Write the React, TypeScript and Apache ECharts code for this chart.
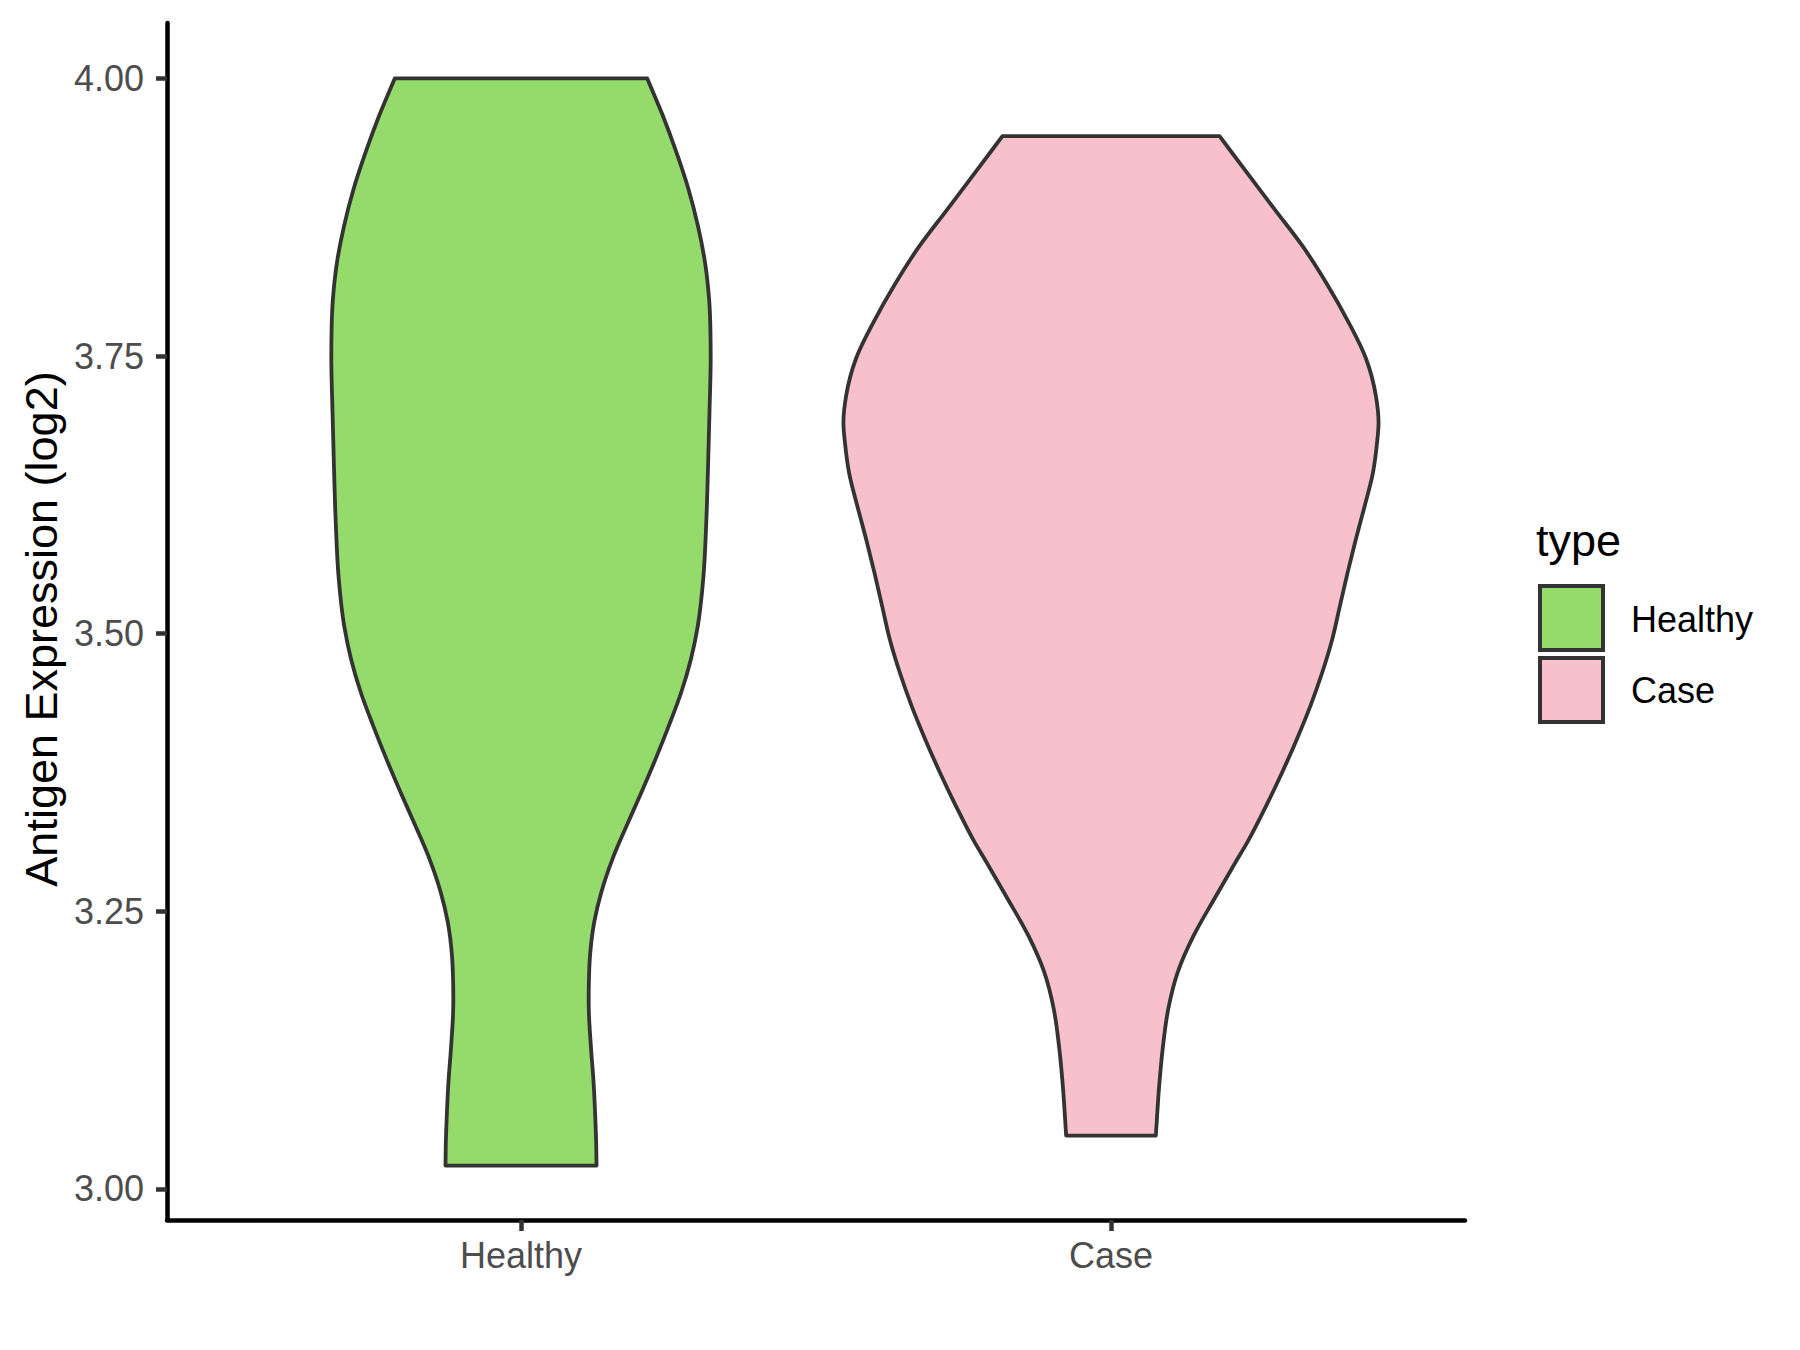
import React, { useEffect, useRef } from 'react';
import * as echarts from 'echarts';

// ---- data ----
const categories = ['Healthy', 'Case'];
const categoryPositions = [1, 2];
const yTickValues = [3.0, 3.25, 3.5, 3.75, 4.0];

// Healthy violin outline: expression value (top -> bottom) and half-width (x units)
const healthyY = [4.0, 3.967, 3.934, 3.9, 3.867, 3.834, 3.8, 3.75, 3.7, 3.65, 3.6, 3.55, 3.507, 3.477, 3.447, 3.417, 3.387, 3.357, 3.327, 3.297, 3.267, 3.24, 3.21, 3.185, 3.16, 3.128, 3.096, 3.063, 3.04, 3.021];
const healthyHalfWidth = [0.214, 0.24, 0.263, 0.284, 0.3, 0.312, 0.319, 0.3215, 0.3195, 0.317, 0.314, 0.309, 0.2997, 0.288, 0.2715, 0.2505, 0.228, 0.204, 0.179, 0.155, 0.136, 0.124, 0.117, 0.115, 0.115, 0.1185, 0.123, 0.126, 0.1275, 0.128];

// Case violin outline
const caseY = [3.948, 3.914, 3.881, 3.848, 3.814, 3.781, 3.748, 3.714, 3.69, 3.67, 3.645, 3.615, 3.585, 3.555, 3.525, 3.495, 3.465, 3.435, 3.405, 3.375, 3.345, 3.312, 3.295, 3.262, 3.228, 3.195, 3.162, 3.128, 3.095, 3.048];
const caseHalfWidth = [0.184, 0.232, 0.279, 0.326, 0.367, 0.402, 0.432, 0.449, 0.4535, 0.4505, 0.444, 0.43, 0.415, 0.401, 0.388, 0.375, 0.358, 0.338, 0.315, 0.29, 0.263, 0.231, 0.212, 0.176, 0.14, 0.113, 0.097, 0.088, 0.082, 0.076];

const fillColors = ['#94DB6B', '#F7C0CB'];
const outlineColor = '#333333';
const fontFamily = '"Liberation Sans", Arial, sans-serif';

// Smooth curve through points ordered by pixel y (x treated as a function of y),
// cubic Hermite with non-uniform three-point tangents, emitted as bezier segments.
function curveThrough(ctx: any, pts: number[][]) {
  const n = pts.length;
  const h: number[] = [];
  const s: number[] = [];
  for (let i = 0; i < n - 1; i++) {
    const dy = pts[i + 1][1] - pts[i][1];
    h.push(dy);
    s.push(dy !== 0 ? (pts[i + 1][0] - pts[i][0]) / dy : 0);
  }
  const m: number[] = [];
  for (let i = 0; i < n; i++) {
    if (i === 0) m.push(s[0]);
    else if (i === n - 1) m.push(s[n - 2]);
    else m.push((h[i] * s[i - 1] + h[i - 1] * s[i]) / (h[i - 1] + h[i]));
  }
  for (let i = 0; i < n - 1; i++) {
    const p1 = pts[i];
    const p2 = pts[i + 1];
    const d = h[i] / 3;
    ctx.bezierCurveTo(p1[0] + m[i] * d, p1[1] + d, p2[0] - m[i + 1] * d, p2[1] - d, p2[0], p2[1]);
  }
}

echarts.graphic.registerShape(
  'violinOutline',
  (echarts.graphic as any).extendShape({
    shape: { left: null, right: null },
    buildPath(ctx: any, shape: any) {
      const left = shape.left as number[][] | null;
      const right = shape.right as number[][] | null;
      if (!left || !right || left.length < 2) return;
      ctx.moveTo(left[0][0], left[0][1]);
      curveThrough(ctx, left);
      const rb = right[right.length - 1];
      ctx.lineTo(rb[0], rb[1]);
      curveThrough(ctx, right.slice().reverse());
      ctx.closePath();
    },
  })
);

export default function App() {
  const ref = useRef<HTMLDivElement | null>(null);

  useEffect(() => {
    if (!ref.current) return;
    const chart = echarts.init(ref.current, null, { renderer: 'svg' });
    const groups = [
      { y: healthyY, hw: healthyHalfWidth },
      { y: caseY, hw: caseHalfWidth },
    ];

    const option: any = {
      animation: false,
      backgroundColor: '#ffffff',
      grid: {
        left: 167,
        top: 23,
        right: 335,
        bottom: 130,
        containLabel: false,
        outerBoundsMode: 'none',
      },
      xAxis: {
        type: 'value',
        min: 0.4,
        max: 2.6,
        splitLine: { show: false },
        axisLine: { show: true, onZero: false, lineStyle: { color: '#000000', width: 4.5 } },
        axisTick: {
          show: true,
          customValues: categoryPositions,
          length: 11,
          lineStyle: { color: outlineColor, width: 4.5 },
        },
        axisLabel: {
          customValues: categoryPositions,
          formatter: (v: number) => categories[categoryPositions.indexOf(Math.round(v))] ?? '',
          color: '#4D4D4D',
          fontSize: 36,
          fontFamily,
          margin: 17,
        },
      },
      yAxis: {
        type: 'value',
        min: 2.972,
        max: 4.0499,
        splitLine: { show: false },
        axisLine: { show: true, onZero: false, lineStyle: { color: '#000000', width: 4.5 } },
        axisTick: {
          show: true,
          customValues: yTickValues,
          length: 11,
          lineStyle: { color: outlineColor, width: 4.5 },
        },
        axisLabel: {
          customValues: yTickValues,
          formatter: (v: number) => v.toFixed(2),
          color: '#4D4D4D',
          fontSize: 36,
          fontFamily,
          margin: 23,
        },
      },
      series: [
        {
          type: 'custom',
          coordinateSystem: 'cartesian2d',
          clip: false,
          data: categoryPositions.map((p) => [p, 3.5]),
          renderItem: (params: any, api: any) => {
            const i = params.dataIndex;
            const g = groups[i];
            const cx = categoryPositions[i];
            const left = g.y.map((v, k) => api.coord([cx - g.hw[k], v]));
            const right = g.y.map((v, k) => api.coord([cx + g.hw[k], v]));
            return {
              type: 'violinOutline',
              shape: { left, right },
              style: { fill: fillColors[i], stroke: outlineColor, lineWidth: 3.8, lineJoin: 'round' },
            };
          },
        },
      ],
      graphic: [
        {
          type: 'text',
          x: 41,
          y: 629,
          rotation: Math.PI / 2,
          style: {
            text: 'Antigen Expression (log2)',
            fill: '#000000',
            fontSize: 45,
            fontFamily,
            align: 'center',
            verticalAlign: 'middle',
          },
        },
        {
          type: 'text',
          x: 1536,
          y: 540,
          style: {
            text: 'type',
            fill: '#000000',
            fontSize: 45,
            fontFamily,
            align: 'left',
            verticalAlign: 'middle',
          },
        },
        {
          type: 'rect',
          shape: { x: 1540, y: 586, width: 63, height: 64 },
          style: { fill: fillColors[0], stroke: outlineColor, lineWidth: 4 },
        },
        {
          type: 'rect',
          shape: { x: 1540, y: 658, width: 63, height: 64 },
          style: { fill: fillColors[1], stroke: outlineColor, lineWidth: 4 },
        },
        {
          type: 'text',
          x: 1631,
          y: 619,
          style: {
            text: categories[0],
            fill: '#000000',
            fontSize: 36,
            fontFamily,
            align: 'left',
            verticalAlign: 'middle',
          },
        },
        {
          type: 'text',
          x: 1631,
          y: 690,
          style: {
            text: categories[1],
            fill: '#000000',
            fontSize: 36,
            fontFamily,
            align: 'left',
            verticalAlign: 'middle',
          },
        },
      ],
    };

    chart.setOption(option);
    return () => {
      chart.dispose();
    };
  }, []);

  return (
    <div
      ref={ref}
      style={{ position: 'absolute', left: 0, top: 0, width: 1800, height: 1350, background: '#ffffff' }}
    />
  );
}
